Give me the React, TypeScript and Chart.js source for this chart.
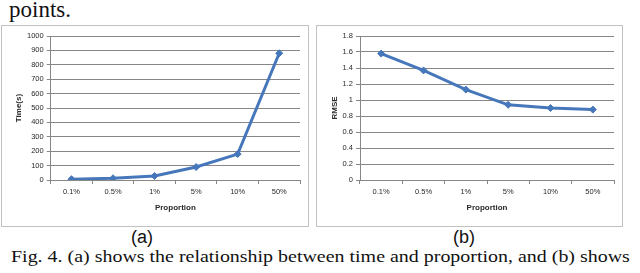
import React, { useEffect, useRef } from 'react';
import { Chart, registerables } from 'chart.js';

Chart.register(...registerables);

const categories = ['0.1%', '0.5%', '1%', '5%', '10%', '50%'];
const timeValues = [6, 12, 28, 90, 180, 880];
const rmseValues = [1.58, 1.37, 1.13, 0.94, 0.9, 0.88];
const xTitle = 'Proportion';
const yTitleA = 'Time(s)';
const yTitleB = 'RMSE';

const LINE = '#4677ba';
const GRID = '#878787';
const TEXT = '#2a2a2a';
const FONT = "'Liberation Sans', Arial, sans-serif";

type Props = {
  values: number[];
  yMax: number;
  step: number;
  yTitle: string;
  yWidth: number;
  padRight: number;
  titlePad: number;
  fmt: (v: number) => string;
};

function LineChart({ values, yMax, step, yTitle, yWidth, padRight, titlePad, fmt }: Props) {
  const ref = useRef<HTMLCanvasElement | null>(null);
  useEffect(() => {
    if (!ref.current) return;
    const chart = new Chart(ref.current, {
      type: 'line',
      data: {
        labels: categories,
        datasets: [
          {
            data: values,
            borderColor: LINE,
            backgroundColor: LINE,
            borderWidth: 3,
            pointStyle: 'rectRot',
            pointRadius: 3.5,
            pointBorderWidth: 1,
            pointBorderColor: LINE,
            pointBackgroundColor: LINE,
            tension: 0,
          },
        ],
      },
      options: {
        animation: false,
        responsive: false,
        maintainAspectRatio: false,
        layout: { padding: { top: 10, right: padRight, bottom: 0, left: 0 } },
        plugins: { legend: { display: false }, tooltip: { enabled: false } },
        scales: {
          x: {
            type: 'category',
            offset: true,
            grid: {
              display: true,
              offset: true,
              drawOnChartArea: false,
              drawTicks: true,
              tickLength: 4,
              color: GRID,
            },
            border: { display: true, color: GRID, width: 1 },
            ticks: {
              color: TEXT,
              font: { family: FONT, size: 7.5 },
              padding: 3,
              maxRotation: 0,
              autoSkip: false,
            },
            title: {
              display: true,
              text: xTitle,
              color: TEXT,
              font: { family: FONT, size: 8, weight: 'bold' },
              padding: { top: 0, bottom: 13 },
            },
            afterFit: (s: any) => {
              s.height = 46;
            },
          },
          y: {
            min: 0,
            max: yMax,
            grid: {
              color: GRID,
              lineWidth: 1,
              drawTicks: true,
              tickLength: 4,
            },
            border: { display: true, color: GRID, width: 1 },
            ticks: {
              stepSize: step,
              color: TEXT,
              font: { family: FONT, size: 7.5 },
              padding: 3,
              callback: (v: any) => fmt(Number(v)),
            },
            title: {
              display: true,
              text: yTitle,
              color: TEXT,
              font: { family: FONT, size: 8, weight: 'bold' },
              padding: { top: titlePad, bottom: 0 },
            },
            afterFit: (s: any) => {
              s.width = yWidth;
            },
          },
        },
      },
    });
    return () => chart.destroy();
  }, []);
  return <canvas ref={ref} width={306} height={200} style={{ display: 'block', width: 306, height: 200 }} />;
}

export default function App() {
  const box: React.CSSProperties = {
    position: 'absolute',
    top: 25,
    height: 200,
    border: '1px solid #c2c2c2',
    background: '#fff',
  };
  const label: React.CSSProperties = {
    position: 'absolute',
    top: 228,
    transform: 'translateX(-50%)',
    fontFamily: "'Liberation Sans', Arial, sans-serif",
    fontSize: 18,
    lineHeight: '18px',
    color: '#111',
  };
  return (
    <div
      style={{
        position: 'fixed',
        left: 0,
        top: 0,
        width: 640,
        height: 273,
        background: '#fff',
        overflow: 'hidden',
      }}
    >
      <div
        style={{
          position: 'absolute',
          left: 9,
          top: -2,
          fontFamily: "'Liberation Serif', 'Times New Roman', serif",
          fontSize: 23,
          lineHeight: '23px',
          color: '#111',
          whiteSpace: 'nowrap',
        }}
      >
        points.
      </div>
      <div style={{ ...box, left: 1, width: 306 }}>
        <LineChart
          values={timeValues}
          yMax={1000}
          step={100}
          yTitle={yTitleA}
          yWidth={48.7}
          padRight={8}
          titlePad={12}
          fmt={(v) => String(Math.round(v))}
        />
      </div>
      <div style={{ ...box, left: 316, width: 305 }}>
        <LineChart
          values={rmseValues}
          yMax={1.8}
          step={0.2}
          yTitle={yTitleB}
          yWidth={43}
          padRight={9}
          titlePad={13}
          fmt={(v) => String(Number(v.toFixed(1)))}
        />
      </div>
      <div style={{ ...label, left: 142 }}>(a)</div>
      <div style={{ ...label, left: 464 }}>(b)</div>
      <div
        style={{
          position: 'absolute',
          left: 11,
          top: 248,
          fontFamily: "'Liberation Serif', 'Times New Roman', serif",
          fontSize: 17.5,
          lineHeight: '17px',
          color: '#111',
          whiteSpace: 'nowrap',
          transform: 'scaleX(1.14)',
          transformOrigin: '0 0',
        }}
      >
        Fig. 4. (a) shows the relationship between time and proportion, and (b) shows
      </div>
    </div>
  );
}
